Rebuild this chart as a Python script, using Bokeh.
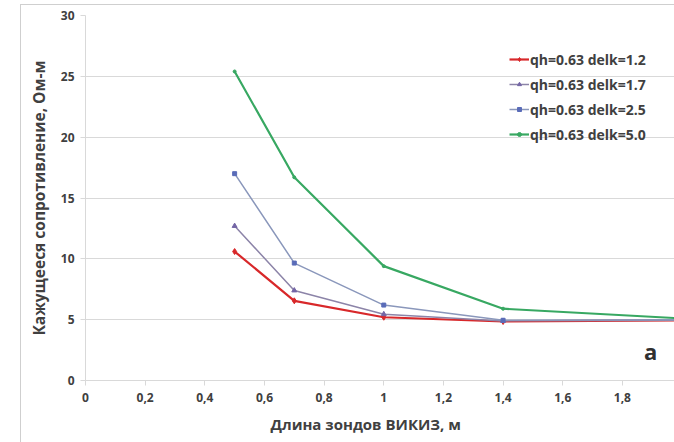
from bokeh.plotting import figure
from bokeh.models import Range1d, FixedTicker, CustomJSTickFormatter, Label, Legend, Title
from bokeh.embed import file_html
from bokeh.resources import INLINE

x_vals = [0.5, 0.7, 1.0, 1.4, 2.0]
y_12 = [10.6, 6.55, 5.2, 4.85, 4.95]
y_17 = [12.7, 7.4, 5.45, 4.9, 4.95]
y_25 = [17.0, 9.65, 6.2, 4.95, 5.0]
y_50 = [25.4, 16.7, 9.4, 5.9, 5.1]
labels = ["qh=0.63 delk=1.2", "qh=0.63 delk=1.7", "qh=0.63 delk=2.5", "qh=0.63 delk=5.0"]
x_ticks = [0, 0.2, 0.4, 0.6, 0.8, 1.0, 1.2, 1.4, 1.6, 1.8]
y_ticks = [0, 5, 10, 15, 20, 25, 30]

FONT = "Open Sans"
TXT = "#404040"
GRID = "#d9d9d9"

p = figure(width=654, height=438, output_backend="svg", toolbar_location=None,
           x_range=Range1d(0, 1.978), y_range=Range1d(0, 30),
           min_border_left=64, min_border_right=0, min_border_top=10, min_border_bottom=63)
p.margin = (4, 0, 0, 20)
p.styles = {"border-left": "1px solid #cfcfcf", "border-top": "1px solid #cfcfcf"}
p.background_fill_color = "white"
p.border_fill_color = "white"
p.outline_line_color = None

p.xgrid.grid_line_color = None
p.ygrid.grid_line_color = GRID
p.ygrid.ticker = FixedTicker(ticks=y_ticks)

p.xaxis.ticker = FixedTicker(ticks=x_ticks)
p.xaxis.formatter = CustomJSTickFormatter(code="var s=(Math.round(tick*10)/10).toString(); return s.replace('.', ',');")
p.yaxis.ticker = FixedTicker(ticks=y_ticks)
for ax in (p.xaxis, p.yaxis):
    ax.axis_line_color = GRID
    ax.major_tick_line_color = GRID
    ax.minor_tick_line_color = None
    ax.major_tick_out = 5
    ax.major_tick_in = 0
    ax.major_label_text_font = FONT
    ax.major_label_text_font_style = "bold"
    ax.major_label_text_font_size = "12px"
    ax.major_label_text_color = TXT
p.xaxis.major_label_standoff = 7
p.yaxis.major_label_standoff = 6

p.yaxis.axis_label = "Кажущееся сопротивление, Ом-м"
p.yaxis.axis_label_text_font = FONT
p.yaxis.axis_label_text_font_style = "bold"
p.yaxis.axis_label_text_font_size = "15.5px"
p.yaxis.axis_label_text_color = TXT
p.yaxis.axis_label_standoff = 8

p.add_layout(Title(text="Длина зондов ВИКИЗ, м", align="left", offset=185,
                   text_font=FONT, text_font_style="bold", text_font_size="15px",
                   text_color=TXT, standoff=14), "below")
p.add_layout(Label(x=1.895, y=2.4, text="a", text_align="center", text_baseline="middle",
                   text_font=FONT, text_font_style="bold", text_font_size="22px", text_color="#303030"))

series = [
    (y_12, "#d8282a", "#d8282a", 2.2, "diamond", 6),
    (y_17, "#8c84a8", "#7466a6", 1.5, "triangle", 5),
    (y_25, "#8a97bb", "#5a6cb8", 1.5, "square", 4),
    (y_50, "#38a862", "#38a862", 2.2, "circle", 3),
]
items = []
for (ys, col, mcol, lw, mk, ms), lab in zip(series, labels):
    r1 = p.line(x_vals, ys, line_color=col, line_width=lw)
    r2 = p.scatter(x_vals, ys, marker=mk, size=ms, fill_color=mcol, line_color=mcol)
    items.append((lab, [r1, r2]))

legend = Legend(items=items, location=(424, 236))
legend.background_fill_alpha = 0
legend.border_line_color = None
legend.padding = 0
legend.margin = 0
legend.spacing = 5
legend.glyph_width = 20
legend.glyph_height = 10
legend.label_height = 20
legend.label_standoff = 1
legend.label_text_font = FONT
legend.label_text_font_style = "bold"
legend.label_text_font_size = "14px"
legend.label_text_color = TXT
p.add_layout(legend)

open("out.html", "w").write(file_html(p, INLINE))
